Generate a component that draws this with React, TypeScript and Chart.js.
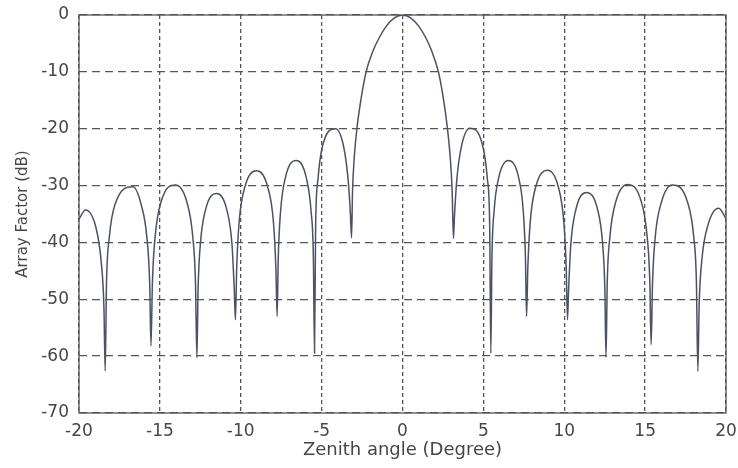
import { useEffect, useRef } from "react";
import { Chart, registerables } from "chart.js";

Chart.register(...registerables);

// Zenith angle samples (degrees) and array factor (dB) of the beam pattern
const angles = [
  -20.0, -19.6, -18.96, -18.63, -18.46, -18.38, -18.3, -18.13, -17.76, -16.67,
  -16.17, -15.8, -15.63, -15.55, -15.46, -15.29, -14.93, -14.04, -13.33, -12.97,
  -12.8, -12.71, -12.64, -12.5, -12.19, -11.5, -10.85, -10.54, -10.4, -10.33,
  -10.25, -10.1, -9.76, -9.03, -8.32, -7.98, -7.83, -7.75, -7.68, -7.54,
  -7.24, -6.58, -5.95, -5.65, -5.51, -5.44, -5.37, -5.23, -4.94, -4.14,
  -3.65, -3.36, -3.22, -3.15, -3.09, -2.98, -2.82, -2.53, -2.25, -1.82,
  -1.44, -1.0, -0.5, 0, 0.5, 1.0, 1.44, 1.8, 2.22, 2.5,
  2.78, 2.95, 3.07, 3.15, 3.22, 3.36,
  3.66, 4.16, 4.95, 5.25, 5.39, 5.46, 5.53, 5.66, 5.95, 6.55,
  7.18, 7.47, 7.6, 7.67, 7.75, 7.9, 8.23, 8.97, 9.64, 9.97,
  10.12, 10.2, 10.27, 10.41, 10.72, 11.38, 12.06, 12.37, 12.51, 12.58,
  12.66, 12.83, 13.19, 13.92, 14.76, 15.12, 15.29, 15.37, 15.46, 15.63,
  16.01, 16.67, 17.62, 18.0, 18.17, 18.26, 18.34, 18.51, 18.88, 19.55,
  20.0,
];

const levels = [
  -35.9, -34.3, -37.3, -43.3, -51.3, -62.6, -47.2, -39.2, -33.2, -30.2,
  -33.2, -39.2, -47.2, -58.2, -46.9, -38.9, -32.9, -29.9, -32.9, -38.9,
  -46.9, -60.3, -48.4, -40.4, -34.4, -31.4, -34.4, -40.4, -48.4, -53.6,
  -44.4, -36.4, -30.4, -27.4, -30.4, -36.4, -44.4, -53.0, -42.6, -34.6,
  -28.6, -25.6, -28.6, -34.6, -42.6, -59.5, -37.0, -29.0, -23.0, -20.0,
  -23.0, -29.0, -35.0, -39.2, -31.0, -25.0, -20.0, -14.2, -10.0, -6.3,
  -4.0, -1.95, -0.5, 0, -0.5, -1.95, -4.0, -6.3, -10.0, -14.2,
  -20.0, -25.0, -31.0, -39.3, -35.0, -28.9,
  -22.9, -19.9, -22.9, -28.9, -36.9, -59.5, -42.6, -34.6, -28.6, -25.6,
  -28.6, -34.6, -42.6, -53.0, -44.3, -36.3, -30.3, -27.3, -30.3, -36.3,
  -44.3, -53.6, -48.2, -40.2, -34.2, -31.2, -34.2, -40.2, -48.2, -60.2,
  -46.8, -38.8, -32.8, -29.8, -32.8, -38.8, -46.8, -58.0, -46.9, -38.9,
  -32.9, -29.9, -32.9, -38.9, -46.9, -62.7, -51.0, -43.0, -37.0, -34.0,
  -35.8,
];

const xTickValues = [-20, -15, -10, -5, 0, 5, 10, 15, 20];
const yTickValues = [-70, -60, -50, -40, -30, -20, -10, 0];

const xTitle = "Zenith angle (Degree)";
const yTitle = "Array Factor (dB)";

const FONT = "'DejaVu Sans', 'Liberation Sans', Arial, sans-serif";
const TEXT = "#464646";
const GRID = "#555555";

// Solid box around the plotting area
const framePlugin = {
  id: "frame",
  afterDatasetsDraw(chart: any) {
    const { ctx, chartArea } = chart;
    const { left, top, right, bottom } = chartArea;
    ctx.save();
    ctx.strokeStyle = "#555555";
    ctx.lineWidth = 1.3;
    ctx.strokeRect(left, top, right - left, bottom - top);
    ctx.restore();
  },
};

export default function App() {
  const canvasRef = useRef<HTMLCanvasElement | null>(null);

  useEffect(() => {
    const canvas = canvasRef.current;
    if (!canvas) return;

    const points = angles.map((x, i) => ({ x, y: levels[i] }));

    const chart = new Chart(canvas, {
      type: "line",
      data: {
        datasets: [
          {
            data: points,
            borderColor: "#4d5165",
            borderWidth: 1.5,
            pointRadius: 0,
            fill: false,
            cubicInterpolationMode: "monotone",
          },
        ],
      },
      options: {
        responsive: false,
        animation: false,
        events: [],
        layout: { padding: { left: 0, top: 15, right: 12, bottom: 0 } },
        plugins: {
          legend: { display: false },
          tooltip: { enabled: false },
        },
        scales: {
          x: {
            type: "linear",
            min: -20,
            max: 20,
            afterBuildTicks: (scale: any) => {
              scale.ticks = xTickValues.map((value) => ({ value }));
            },
            afterFit: (scale: any) => {
              scale.height = 55;
              scale.paddingLeft = 0;
              scale.paddingRight = 0;
            },
            ticks: {
              autoSkip: false,
              maxRotation: 0,
              padding: 8,
              color: TEXT,
              font: { family: FONT, size: 17 },
            },
            grid: {
              color: GRID,
              lineWidth: 1.3,
              drawTicks: false,
            },
            border: { display: false, dash: [4, 3] },
            title: {
              display: true,
              text: xTitle,
              color: TEXT,
              font: { family: FONT, size: 18 },
              padding: { top: 0, bottom: 7 },
            },
          },
          y: {
            type: "linear",
            min: -70,
            max: 0,
            afterBuildTicks: (scale: any) => {
              scale.ticks = yTickValues.map((value) => ({ value }));
            },
            afterFit: (scale: any) => {
              scale.width = 79;
              scale.paddingTop = 0;
              scale.paddingBottom = 0;
            },
            ticks: {
              autoSkip: false,
              padding: 10,
              color: TEXT,
              font: { family: FONT, size: 17 },
            },
            grid: {
              color: GRID,
              lineWidth: 1.3,
              drawTicks: false,
            },
            border: { display: false, dash: [8, 5] },
            title: {
              display: true,
              text: yTitle,
              color: TEXT,
              font: { family: FONT, size: 15 },
              padding: { top: 14, bottom: 0 },
            },
          },
        },
      },
      plugins: [framePlugin],
    } as any);

    return () => chart.destroy();
  }, []);

  return (
    <div
      style={{
        position: "fixed",
        left: 0,
        top: 0,
        width: 738,
        height: 468,
        background: "#ffffff",
      }}
    >
      <canvas ref={canvasRef} width={738} height={468} style={{ display: "block" }} />
    </div>
  );
}
